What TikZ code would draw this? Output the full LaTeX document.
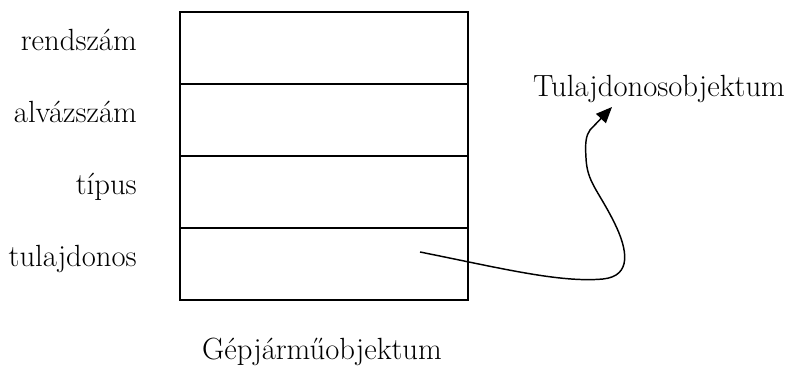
\documentclass[tikz,border=0pt]{standalone}
\usetikzlibrary{arrows.meta}

\tikzset{
  field/.style={draw, line width=1.2pt, minimum width=216pt, minimum height=54pt, inner sep=0pt},
  attr/.style={anchor=base east, inner sep=0pt},
  objname/.style={anchor=base, inner sep=0pt},
  ptr/.style={line width=1.1pt, -{Triangle[length=12pt,width=10pt]}}
}

\begin{document}
\begin{tikzpicture}[x=0.75pt, y=-0.75pt]
\fontsize{23}{27}\selectfont

\useasboundingbox (0,0) rectangle (794,366); %% spacing

%% the record
\node[field] (rendszam) at (324,48) {};
\node[field] (alvazszam) at (324,120) {};
\node[field] (tipus) at (324,192) {};
\node[field] (tulajdonos) at (324,264) {};

\node[attr] (rendszamlbl) at (137,51) {rendszám};
\node[attr] (alvazszamlbl) at (137,123) {alvázszám};
\node[attr] (tipuslbl) at (137,195) {típus};
\node[attr] (tulajdonoslbl) at (137,267) {tulajdonos};

\node[objname] (gepjarmu) at (322,360) {Gépjárműobjektum};
\node[objname] (tulajobj) at (659,97) {Tulajdonosobjektum};

%% the pointer
\coordinate (ref) at (420,252);
\coordinate (tip) at (612,107);
\draw[ptr] (ref) .. controls (500,268) and (560,283) .. (603,279)
  .. controls (632,276) and (628,250) .. (614,222)
  .. controls (598,190) and (587,182) .. (586,158)
  .. controls (585,142) and (586,136) .. (590,130) -- (tip);

\end{tikzpicture}
\end{document}
